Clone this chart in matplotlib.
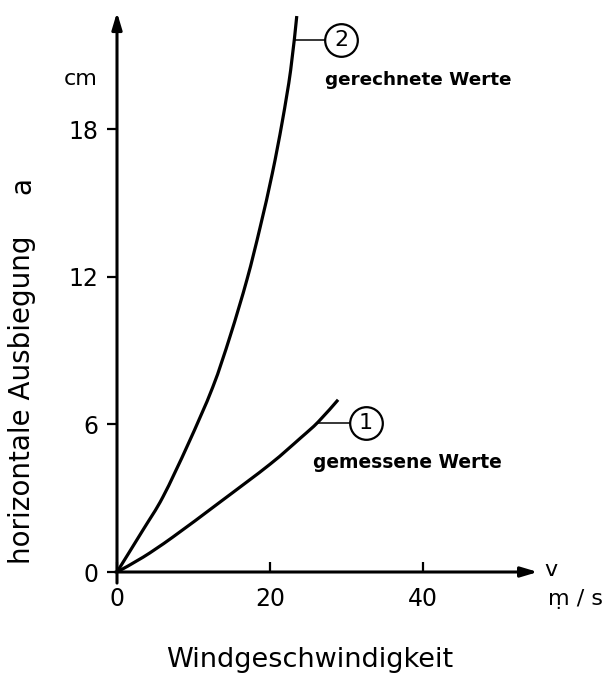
import matplotlib
matplotlib.use("Agg")
import matplotlib.pyplot as plt
import numpy as np
from matplotlib.path import Path
from matplotlib.patches import PathPatch

# ---- data ----
v_calc = [0, 3.4, 6.0, 9.3, 12.5, 14.8, 17.0, 18.7, 20.3, 21.6, 22.7, 23.5]
a_calc = [0, 1.71, 3.05, 5.2, 7.5, 9.6, 11.9, 14.0, 16.2, 18.3, 20.4, 22.6]

v_meas = [0, 3.4, 7.3, 13.5, 20.0, 24.0, 26.3, 28.9]
a_meas = [0, 0.6, 1.42, 2.85, 4.38, 5.45, 6.1, 7.0]

x_ticks = [0, 20, 40]
y_ticks = [0, 6, 12, 18]

label_calc = "gerechnete Werte"
label_meas = "gemessene Werte"
x_label = "Windgeschwindigkeit"
y_label = "horizontale Ausbiegung"
y_symbol = "a"

plt.rcParams['font.family'] = ['DejaVu Sans']

W, H = 606, 675
fig = plt.figure(figsize=(W / 100, H / 100), dpi=100)
x0, y0 = 117, 572
pxx, pxy = 7.65, 24.6
xmax, ymax = 55.0, 22.75
ax = fig.add_axes([x0 / W, (H - y0) / H, xmax * pxx / W, ymax * pxy / H])
ax.set_xlim(0, xmax)
ax.set_ylim(0, ymax)
for s in ax.spines.values():
    s.set_visible(False)

# axes with arrows
arrow = dict(arrowstyle="-|>,head_length=1.0,head_width=0.3", lw=2.2, color="black",
             shrinkA=0, shrinkB=0)
ax.annotate("", xy=(xmax, 0), xytext=(-0.2, 0), arrowprops=arrow, annotation_clip=False)
ax.annotate("", xy=(0, ymax), xytext=(0, -0.45), arrowprops=arrow, annotation_clip=False)

ax.set_xticks(x_ticks)
ax.set_yticks(y_ticks)
ax.set_xticklabels([str(t) for t in x_ticks])
ax.set_yticklabels([str(t) for t in y_ticks])
ax.tick_params(axis="x", direction="in", length=7, width=1.6, pad=11, labelsize=17)
ax.tick_params(axis="y", direction="out", length=7.5, width=1.6, pad=6, labelsize=17)


def smooth_curve(xs, ys):
    # Catmull-Rom through the read points, drawn as cubic Bezier segments
    p = np.column_stack([xs, ys]).astype(float)
    verts = [tuple(p[0])]
    codes = [Path.MOVETO]
    n = len(p)
    for i in range(n - 1):
        p0 = p[i - 1] if i > 0 else p[i]
        p1, p2 = p[i], p[i + 1]
        p3 = p[i + 2] if i + 2 < n else p[i + 1]
        c1 = p1 + (p2 - p0) / 6.0
        c2 = p2 - (p3 - p1) / 6.0
        verts += [tuple(c1), tuple(c2), tuple(p2)]
        codes += [Path.CURVE4] * 3
    return PathPatch(Path(verts, codes), fill=False, lw=2.3, edgecolor="black",
                     capstyle="butt", clip_on=False)


ax.add_patch(smooth_curve(v_calc, a_calc))
ax.add_patch(smooth_curve(v_meas, a_meas))


# leaders + circled numbers
def marker(num, y, xc, r_units):
    if num == 2:
        xs = np.interp(y, a_calc, v_calc)
    else:
        xs = np.interp(y, a_meas, v_meas)
    ax.plot([xs, xc - r_units], [y, y], color="black", lw=1.1, clip_on=False)
    ax.plot([xc], [y], marker="o", markersize=23.5, mfc="white", mec="black", mew=1.6,
            clip_on=False, zorder=5)
    ax.text(xc, y, str(num), ha="center", va="center", fontsize=16, zorder=6)


marker(2, 21.62, 29.3, 2.1)
marker(1, 6.06, 32.5, 2.1)

ax.text(27.2, 20.0, label_calc, ha="left", va="center", fontsize=13.2, fontweight="bold")
ax.text(25.6, 4.47, label_meas, ha="left", va="center", fontsize=13.4, fontweight="bold")

ax.text(-4.8, 20.04, "cm", ha="center", va="center", fontsize=16)
ax.text(56.7, 0.1, "v", ha="center", va="center", fontsize=16)
ax.text(59.9, -1.1, "ṃ / s", ha="center", va="center", fontsize=16)

fig.text(310 / W, 1 - 660 / H, x_label, ha="center", va="center", fontsize=19.5)
fig.text(22 / W, 1 - 400 / H, y_label, ha="center", va="center", fontsize=20, rotation=90)
fig.text(22 / W, 1 - 186 / H, y_symbol, ha="center", va="center", fontsize=20, rotation=90)

fig.savefig("out.png", dpi=100)
